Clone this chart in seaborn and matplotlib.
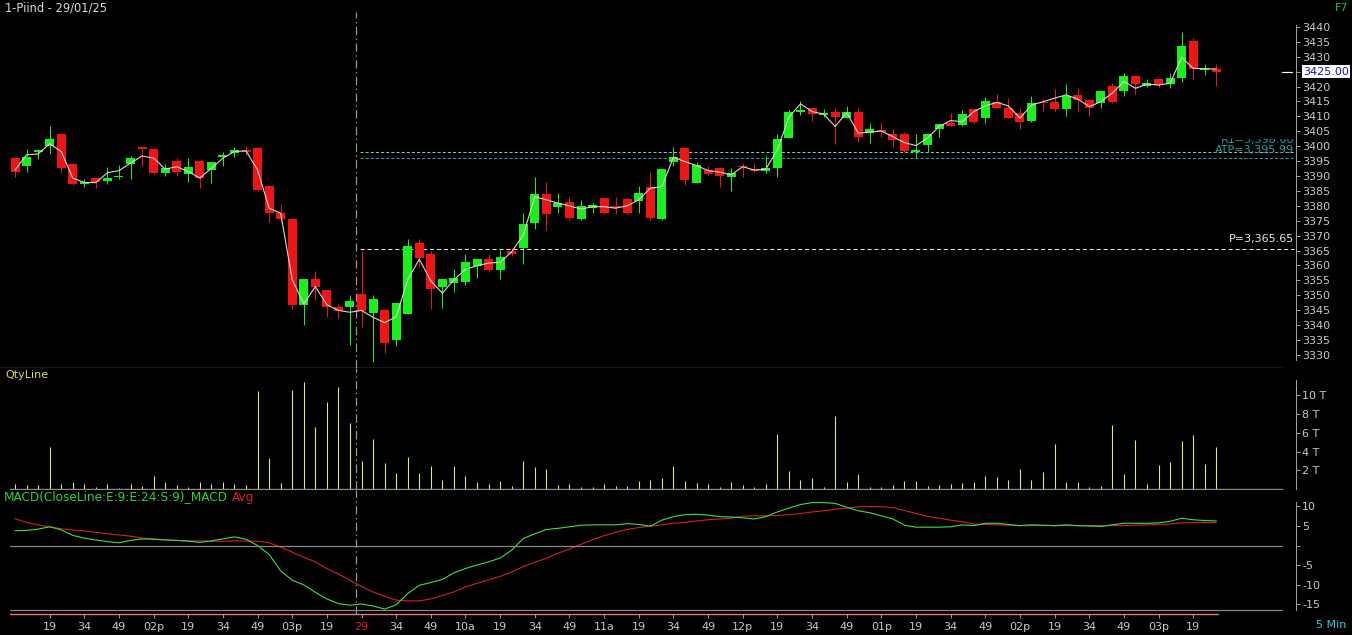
import numpy as np
import pandas as pd
import matplotlib
matplotlib.use("Agg")
import matplotlib.pyplot as plt
import seaborn as sns
from matplotlib.transforms import blended_transform_factory
from matplotlib.patches import Rectangle

# ======================================
# DATOS (velas de 5 min)
# ======================================
open_ = [3396.0, 3393.5, 3398.0, 3399.9, 3404.1, 3394.1, 3387.4, 3389.2, 3388.3, 3389.5,
         3393.9, 3399.5, 3399.1, 3391.1, 3395.0, 3390.6, 3395.0, 3392.0, 3396.5, 3397.6,
         3398.7, 3399.3, 3386.7, 3377.7, 3375.6, 3346.8, 3355.5, 3351.8, 3346.2, 3346.1,
         3350.4, 3344.2, 3345.1, 3335.0, 3343.7, 3367.6, 3363.8, 3352.6, 3354.2, 3354.6,
         3359.8, 3362.2, 3358.5, 3365.0, 3365.8, 3374.1, 3384.0, 3379.7, 3381.2, 3375.5,
         3379.2, 3382.5, 3380.0, 3382.3, 3381.7, 3386.3, 3375.5, 3394.8, 3399.5, 3387.8,
         3392.0, 3392.6, 3389.6, 3393.5, 3392.3, 3391.8, 3392.8, 3402.9, 3411.6, 3412.7,
         3410.5, 3411.4, 3409.6, 3411.6, 3404.3, 3405.4, 3404.0, 3404.0, 3398.2, 3400.4,
         3405.8, 3407.7, 3407.1, 3412.5, 3409.6, 3414.9, 3412.9, 3411.0, 3408.6, 3414.9,
         3414.9, 3412.5, 3417.2, 3415.5, 3414.6, 3420.2, 3418.6, 3423.6, 3420.3, 3422.6,
         3420.8, 3422.8, 3435.3, 3425.6, 3426.0]
high = [3396.3, 3399.1, 3399.2, 3406.6, 3404.3, 3394.3, 3388.9, 3389.3, 3392.9, 3393.7,
        3396.8, 3399.8, 3399.3, 3394.0, 3396.0, 3396.0, 3395.1, 3394.8, 3398.2, 3399.8,
        3400.1, 3399.5, 3387.0, 3380.6, 3375.6, 3355.5, 3358.3, 3351.8, 3347.0, 3350.1,
        3364.9, 3350.1, 3345.1, 3347.3, 3368.8, 3368.8, 3364.9, 3355.5, 3358.7, 3363.8,
        3362.2, 3363.8, 3365.2, 3365.8, 3377.5, 3389.6, 3388.0, 3384.2, 3383.1, 3382.0,
        3381.1, 3383.1, 3383.1, 3382.3, 3386.7, 3391.3, 3392.4, 3399.8, 3399.5, 3394.8,
        3393.4, 3392.6, 3392.6, 3394.3, 3394.3, 3396.7, 3404.0, 3412.2, 3415.2, 3412.7,
        3412.4, 3412.7, 3413.5, 3412.7, 3407.9, 3408.2, 3405.8, 3404.9, 3404.0, 3404.5,
        3407.4, 3411.2, 3412.2, 3412.5, 3416.4, 3417.5, 3416.1, 3412.4, 3416.9, 3415.8,
        3419.1, 3420.9, 3419.4, 3415.5, 3418.5, 3421.1, 3424.7, 3423.9, 3422.5, 3422.8,
        3424.7, 3438.4, 3436.2, 3427.5, 3427.5]
low = [3389.5, 3391.5, 3395.6, 3397.4, 3390.9, 3387.0, 3386.2, 3386.1, 3387.3, 3389.0,
       3389.0, 3393.5, 3390.6, 3390.0, 3390.1, 3388.1, 3386.1, 3387.8, 3393.4, 3396.3,
       3397.1, 3385.0, 3374.7, 3374.7, 3345.4, 3340.1, 3348.4, 3342.8, 3342.3, 3333.3,
       3339.5, 3327.7, 3330.5, 3333.1, 3343.7, 3359.6, 3345.4, 3345.6, 3351.2, 3353.5,
       3355.9, 3357.9, 3355.4, 3363.0, 3360.4, 3372.2, 3371.9, 3377.7, 3375.3, 3375.3,
       3377.7, 3377.2, 3377.2, 3377.2, 3377.5, 3375.3, 3375.3, 3393.5, 3387.0, 3387.6,
       3390.4, 3386.4, 3385.1, 3389.6, 3391.5, 3390.9, 3389.6, 3402.7, 3410.5, 3408.6,
       3409.9, 3400.7, 3409.4, 3401.5, 3401.2, 3403.2, 3399.8, 3398.2, 3396.0, 3398.2,
       3403.2, 3406.6, 3406.8, 3407.5, 3407.9, 3412.7, 3409.4, 3405.7, 3408.2, 3411.8,
       3411.9, 3410.2, 3411.8, 3410.2, 3412.7, 3414.6, 3416.9, 3417.4, 3419.8, 3419.8,
       3419.4, 3421.4, 3422.4, 3423.9, 3420.3]
close = [3391.5, 3396.5, 3398.8, 3402.4, 3392.8, 3387.3, 3388.1, 3388.1, 3389.2, 3390.1,
         3396.0, 3399.1, 3391.0, 3392.6, 3391.5, 3393.1, 3389.2, 3394.6, 3397.1, 3398.7,
         3398.1, 3385.3, 3377.7, 3375.6, 3346.8, 3355.5, 3352.6, 3346.2, 3344.8, 3348.1,
         3344.8, 3348.8, 3334.1, 3347.3, 3366.5, 3362.4, 3352.1, 3355.5, 3355.9, 3361.0,
         3362.2, 3358.5, 3362.8, 3363.9, 3373.9, 3384.0, 3377.3, 3381.1, 3376.0, 3380.0,
         3380.3, 3377.5, 3379.2, 3377.5, 3384.2, 3376.0, 3392.4, 3396.5, 3388.7, 3393.7,
         3390.7, 3390.1, 3390.9, 3392.9, 3391.8, 3392.8, 3402.4, 3411.4, 3412.2, 3410.7,
         3411.2, 3409.7, 3411.6, 3403.0, 3405.7, 3404.9, 3402.1, 3398.4, 3398.7, 3404.1,
         3407.4, 3406.8, 3410.7, 3408.2, 3415.2, 3412.9, 3409.6, 3408.2, 3414.4, 3414.4,
         3412.4, 3416.9, 3415.5, 3412.9, 3418.5, 3414.9, 3423.6, 3420.8, 3421.1, 3420.5,
         3422.8, 3433.6, 3425.9, 3426.1, 3425.0]
avg_line = [3392.0, 3397.1, 3397.4, 3400.8, 3398.2, 3389.3, 3387.8, 3387.8, 3391.1, 3391.8,
            3394.3, 3396.7, 3396.0, 3392.3, 3393.1, 3391.5, 3389.3, 3392.6, 3396.0, 3398.2,
            3398.4, 3392.0, 3379.2, 3377.5, 3355.2, 3347.1, 3352.9, 3346.8, 3344.9, 3344.3,
            3344.9, 3342.6, 3340.8, 3342.8, 3355.2, 3362.1, 3354.8, 3350.7, 3355.2, 3358.7,
            3359.9, 3360.8, 3361.0, 3364.6, 3370.2, 3383.1, 3382.0, 3380.9, 3380.0, 3378.9,
            3379.7, 3379.7, 3379.2, 3380.0, 3382.0, 3385.9, 3386.4, 3396.3, 3394.8, 3393.5,
            3391.8, 3391.3, 3390.4, 3393.1, 3392.0, 3392.3, 3398.8, 3409.7, 3414.2, 3411.6,
            3410.8, 3406.6, 3411.3, 3404.4, 3404.7, 3405.1, 3403.2, 3401.2, 3400.2, 3402.7,
            3406.6, 3408.6, 3408.2, 3411.6, 3413.5, 3414.7, 3413.5, 3409.4, 3413.8, 3414.9,
            3416.1, 3417.2, 3415.8, 3413.3, 3414.9, 3417.8, 3421.7, 3419.4, 3420.8, 3420.5,
            3421.1, 3429.8, 3426.1, 3425.9, 3425.9]
qty_thousands = [0.53, 0.43, 0.43, 4.49, 0.53, 0.75, 0.53, 0.21, 0.53, 0.10,
                 0.53, 0.32, 1.39, 0.75, 0.43, 0.21, 0.75, 0.53, 0.75, 0.53,
                 0.43, 10.48, 3.32, 0.64, 10.59, 11.44, 6.63, 9.30, 10.90, 7.06,
                 2.99, 5.35, 2.78, 1.71, 3.42, 1.71, 2.46, 0.96, 2.46, 1.39,
                 0.75, 0.53, 0.86, 0.32, 2.99, 2.35, 2.14, 0.43, 0.53, 0.21,
                 0.21, 0.53, 0.32, 0.32, 0.86, 0.96, 1.18, 2.46, 0.86, 0.64,
                 0.53, 0.21, 0.75, 0.43, 0.21, 0.53, 5.88, 1.93, 0.96, 1.18,
                 0.21, 7.81, 0.75, 1.60, 0.21, 0.21, 0.43, 0.86, 0.86, 0.32,
                 0.43, 0.53, 0.64, 0.75, 1.39, 1.28, 0.96, 2.14, 0.96, 1.82,
                 4.81, 0.75, 0.75, 0.21, 0.32, 6.84, 1.60, 5.24, 0.53, 2.57,
                 2.89, 5.13, 5.78, 2.67, 4.49]
macd = [3.8, 3.85, 4.2, 4.8, 4.0, 2.6, 1.9, 1.4, 1.0, 0.7,
        1.3, 1.7, 1.6, 1.4, 1.3, 1.1, 0.8, 1.2, 1.7, 2.2,
        1.6, 0.0, -2.3, -6.5, -8.9, -10.1, -12.0, -13.7, -14.9, -15.3,
        -15.0, -15.5, -16.3, -15.2, -12.3, -10.2, -9.5, -8.7, -7.0, -5.9,
        -5.0, -4.2, -3.2, -1.2, 1.8, 3.0, 4.1, 4.4, 4.8, 5.2,
        5.3, 5.3, 5.3, 5.6, 5.4, 4.95, 6.5, 7.4, 7.9, 8.0,
        7.8, 7.4, 7.3, 7.1, 6.8, 7.4, 8.6, 9.6, 10.5, 11.0,
        11.0, 10.8, 9.8, 8.9, 8.4, 7.6, 6.8, 5.2, 4.7, 4.7,
        4.7, 4.8, 5.3, 5.1, 5.7, 5.7, 5.4, 5.1, 5.3, 5.2,
        5.1, 5.3, 5.1, 5.0, 4.9, 5.3, 5.7, 5.7, 5.7, 5.8,
        6.2, 7.0, 6.6, 6.4, 6.3]
macd_avg = [6.9, 5.9, 5.3, 4.8, 4.3, 4.0, 3.7, 3.4, 3.0, 2.7,
            2.4, 1.9, 1.7, 1.5, 1.3, 1.2, 1.2, 1.1, 1.1, 1.2,
            1.15, 1.1, 0.7, -0.4, -1.7, -3.0, -4.2, -5.9, -7.3, -8.9,
            -10.5, -11.9, -13.0, -14.0, -14.2, -14.2, -13.7, -12.8, -11.9, -10.6,
            -9.7, -8.8, -7.9, -6.8, -5.4, -4.3, -3.3, -2.0, -0.9, 0.3,
            1.5, 2.5, 3.4, 4.1, 4.6, 4.95, 5.3, 5.7, 5.9, 6.3,
            6.6, 6.8, 7.0, 7.5, 7.6, 7.6, 7.7, 7.9, 8.2, 8.6,
            8.9, 9.3, 9.6, 9.9, 9.95, 9.95, 9.7, 9.0, 8.2, 7.5,
            7.0, 6.5, 6.1, 5.5, 5.4, 5.3, 5.2, 5.1, 5.1, 5.1,
            5.1, 5.1, 5.1, 5.1, 5.1, 5.1, 5.1, 5.2, 5.3, 5.4,
            5.5, 5.8, 5.9, 5.9, 5.9]

candles_prev_day = 30          # 28/01 13:04 -> 15:29
time_labels = ["19", "34", "49", "02p", "19", "34", "49", "03p", "19", "29",
               "34", "49", "10a", "19", "34", "49", "11a", "19", "34", "49",
               "12p", "19", "34", "49", "01p", "19", "34", "49", "02p", "19",
               "34", "49", "03p", "19"]
price_ticks = list(range(3330, 3445, 5))
qty_ticks = [2, 4, 6, 8, 10]
macd_ticks = [10, 5, 0, -5, -10, -15]

R1 = 3398.00
ATP = 3395.99
PIVOT = 3365.65
LAST = 3425.00

# ======================================
# ESTILO
# ======================================
sns.set_theme(style="dark", rc={"axes.facecolor": "black", "figure.facecolor": "black"})
plt.rcParams['font.family'] = ['DejaVu Sans']
plt.rcParams['lines.scale_dashes'] = False

W, H = 1352, 635
fig = plt.figure(figsize=(W / 100, H / 100), dpi=100, facecolor='black')

def ejes_px(x0, y0, x1, y1):
    """Crea un eje a partir de coordenadas en píxeles (origen arriba-izquierda)"""
    return fig.add_axes([x0 / W, 1 - y1 / H, (x1 - x0) / W, (y1 - y0) / H])

ax_p = ejes_px(0, 12, 1296, 368)
ax_v = ejes_px(0, 368, 1296, 489)
ax_m = ejes_px(0, 490, 1296, 614)

n = len(close)
idx = np.arange(n)
df = pd.DataFrame({'i': idx, 'open': open_, 'high': high, 'low': low, 'close': close,
                   'avg': avg_line, 'qty': qty_thousands, 'macd': macd, 'signal': macd_avg})

GRIS = '#8a8a8a'
TXT = '#c8c8c8'
VERDE = '#1af01a'
ROJO = '#f01414'
PX = 0.72  # 1 pixel en puntos

XLIM = (-1.3, 110.9)
for ax in (ax_p, ax_v, ax_m):
    ax.set_facecolor('black')
    ax.grid(False)
    for s in ('top', 'left', 'bottom'):
        ax.spines[s].set_visible(False)
    ax.spines['right'].set_color('#a0a0a0')
    ax.spines['right'].set_linewidth(PX)
    ax.yaxis.tick_right()
    ax.tick_params(axis='y', colors='#a0a0a0', labelcolor=TXT, length=3, width=PX,
                   labelsize=8, pad=1.5, right=True, left=False)

# ---------- Panel de precio ----------
sube = df['close'] >= df['open']
colores = np.where(sube, VERDE, ROJO)
ax_p.vlines(df['i'], df['low'], df['high'], colors=colores, linewidth=PX, zorder=2)
cuerpo_lo = np.minimum(df['open'], df['close'])
cuerpo_h = np.maximum(np.abs(df['close'] - df['open']), 0.55)
ax_p.bar(df['i'], cuerpo_h, bottom=cuerpo_lo, width=0.78, color=colores, linewidth=0, zorder=3)
sns.lineplot(data=df, x='i', y='avg', ax=ax_p, color='#d8d8d8', linewidth=0.8, zorder=4)

ax_p.set_ylim(3325.6, 3445.0)
ax_p.set_xlim(*XLIM)
ax_p.spines['right'].set_bounds(3328.3, 3440.7)
# la etiqueta del último precio tapa la marca 3425
ax_p.set_yticks(price_ticks, labels=['' if t == LAST else str(t) for t in price_ticks])
ax_p.tick_params(axis='x', bottom=False, labelbottom=False)
ax_p.set_xlabel('')
ax_p.set_ylabel('')

tr_p = blended_transform_factory(ax_p.transAxes, ax_p.transData)
x0_lin = 360 / 1296
x1_lin = 1294 / 1296
ax_p.axhline(R1, xmin=x0_lin, xmax=x1_lin, color='#66d0dc', lw=PX, ls=(0, (2.2, 1.5)))
ax_p.axhline(ATP, xmin=x0_lin, xmax=x1_lin, color='#2a9ea0', lw=PX, ls=(0, (2.2, 1.5)))
ax_p.axhline(PIVOT, xmin=x0_lin, xmax=x1_lin, color='#e8e8e8', lw=PX, ls=(0, (3, 2)))
t_r1 = ax_p.annotate(f"R1={R1:,.2f}", xy=(x1_lin, R1), xycoords=tr_p, xytext=(0, 5.2),
                     textcoords='offset points', ha='right', va='bottom', color='#2a9ea0', fontsize=8)
# sólo se ve la mitad inferior de la etiqueta R1 (como en la pantalla original)
t_r1.set_clip_path(Rectangle((0, 0), W, H - 138.5, transform=None))
ax_p.annotate(f"ATP={ATP:,.2f}", xy=(x1_lin, ATP), xycoords=tr_p, xytext=(0, 2.2),
              textcoords='offset points', ha='right', va='bottom', color='#2a9ea0', fontsize=8)
ax_p.annotate(f"P={PIVOT:,.2f}", xy=(x1_lin, PIVOT), xycoords=tr_p, xytext=(0, 3),
              textcoords='offset points', ha='right', va='bottom', color='#e8e8e8', fontsize=8)

# último precio
ax_p.plot([1282 / 1296, 1292 / 1296], [LAST, LAST], transform=tr_p, color='white',
          lw=PX * 1.2, clip_on=False)
ax_p.annotate(f"{LAST:.2f}", xy=(1.0, LAST), xycoords=tr_p, xytext=(5, 0),
              textcoords='offset points', ha='left', va='center', color='#1414c8', fontsize=8,
              bbox=dict(boxstyle='square,pad=0.12', fc='white', ec='none'), zorder=10,
              annotation_clip=False)

# ---------- Panel de cantidad ----------
ax_v.vlines(df['i'], 0, df['qty'], colors='#e6e67e', linewidth=PX * 1.1)
ax_v.set_ylim(0, 12.94)
ax_v.set_xlim(*XLIM)
ax_v.spines['right'].set_bounds(0, 11.7)
ax_v.set_yticks(qty_ticks, labels=[f"{t} T" for t in qty_ticks])
ax_v.tick_params(axis='x', bottom=False, labelbottom=False)

# ---------- Panel MACD ----------
sns.lineplot(data=df, x='i', y='signal', ax=ax_m, color='#d42222', linewidth=0.8)
sns.lineplot(data=df, x='i', y='macd', ax=ax_m, color='#3ee03e', linewidth=0.8)
ax_m.set_ylim(-17.56, 14.23)
ax_m.set_xlim(*XLIM)
ax_m.spines['right'].set_bounds(-16.5, 11.1)
ax_m.set_yticks(macd_ticks, labels=['' if t == 0 else str(t) for t in macd_ticks])
ax_m.set_xlabel('')
ax_m.set_ylabel('')
tick_pos = np.arange(3, n, 3)[:len(time_labels)]
ax_m.set_xticks(tick_pos, labels=time_labels)
ax_m.tick_params(axis='x', bottom=True, colors='#e07a7a', labelcolor=TXT, length=3,
                 width=PX, labelsize=8, pad=2.5)
for lab in ax_m.get_xticklabels():
    if lab.get_text() == "29":
        lab.set_color('#e02020')

# líneas horizontales de referencia entre paneles
fin_gris = 1282 / 1296
ax_p.axhline(3325.6, xmin=0, xmax=fin_gris, color=GRIS, lw=PX * 1.4, clip_on=False)
ax_v.axhline(0, xmin=10 / 1296, xmax=fin_gris, color=GRIS, lw=PX * 1.4, clip_on=False)
ax_m.axhline(0, xmin=10 / 1296, xmax=fin_gris, color=GRIS, lw=PX * 1.2)
ax_m.axhline(-16.5, xmin=10 / 1296, xmax=fin_gris, color=GRIS, lw=PX * 1.2)
ax_m.axhline(-17.56, xmin=10 / 1296, xmax=1218 / 1296, color='#e07a7a', lw=PX * 1.4, clip_on=False)

# separador de sesión
corte = candles_prev_day - 0.5
for ax in (ax_p, ax_v, ax_m):
    ax.axvline(corte, color='#9a9a9a', lw=PX * 1.2, ls=(0, (6, 2.5, 1, 2.5)), zorder=1)

# ---------- Textos ----------
fig.text(5 / W, 1 - 8 / H, "1-Piind - 29/01/25", color='#d8d8d8', fontsize=8.3, va='center')
fig.text(1348 / W, 1 - 8 / H, "F7", color='#2ec82e', fontsize=8, va='center', ha='right')
fig.text(5 / W, 1 - 375 / H, "QtyLine", color='#d8d860', fontsize=8, va='center')
fig.text(4 / W, 1 - 497 / H, "MACD(CloseLine:E:9:E:24:S:9)_MACD", color='#2ed22e',
         fontsize=8.7, va='center')
fig.text(232 / W, 1 - 497 / H, "Avg", color='#e02020', fontsize=8.7, va='center')
fig.text(1346 / W, 1 - 625 / H, "5 Min", color='#3cc8e6', fontsize=8, va='center', ha='right')

fig.savefig('out.png', dpi=100, facecolor='black')
